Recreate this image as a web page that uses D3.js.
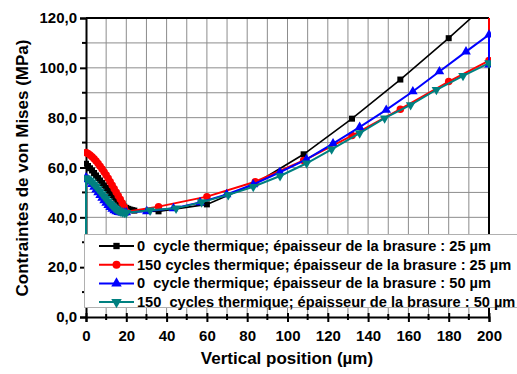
<!DOCTYPE html>
<html><head><meta charset="utf-8">
<script src="https://cdn.jsdelivr.net/npm/d3@7/dist/d3.min.js"></script>
<style>body{margin:0;background:#fff}svg{display:block}text{font-family:"Liberation Sans",Arial,sans-serif;font-weight:bold}</style>
</head><body><svg id="c" width="517" height="374"></svg>
<script>
// ---- data ----
const xTicks = [0,20,40,60,80,100,120,140,160,180,200];
const yTicks = [0,20,40,60,80,100,120];
const yTickLabels = ["0,0","20,0","40,0","60,0","80,0","100,0","120,0"];
const seriesNames = [
  "0  cycle thermique; épaisseur de la brasure : 25 µm",
  "150 cycles thermique; épaisseur de la brasure : 25 µm",
  "0  cycle thermique; épaisseur de la brasure : 50 µm",
  "150  cycles thermique; épaisseur de la brasure : 50 µm"
];
const blackX = [0,1,2,3,4,5,6,7,8,9,10,11,12,13,14,15,16,17,18,19,20,21,22,23,24,36,60,84,108,132,156,180,200];
const blackY = [61.5,60.6,59.7,58.8,57.8,56.8,55.8,54.8,53.8,52.8,51.8,50.8,49.8,48.9,48.0,47.1,46.3,45.6,44.9,44.3,43.8,43.4,43.1,42.9,42.7,42.4,45.2,53.6,65.3,79.6,95.3,111.9,126.5];
const redX = [0,1,2,3,4,5,6,7,8,9,10,11,12,13,14,15,16,17,18,19,20,36,60,84,108,132,156,180,200,200];
const redY = [66.0,65.6,65.0,64.3,63.5,62.6,61.6,60.5,59.4,58.2,57.0,55.7,54.3,52.9,51.5,50.1,48.7,47.3,45.8,44.0,42.2,44.3,48.3,54.3,62.8,72.8,83.4,94.5,102.9,125];
const blueX = [0,1,2,3,4,5,6,7,8,9,10,11,12,13,14,15,16,17,18,19,20,30.2,43.4,56.6,69.8,83,96.2,109.4,122.6,135.8,149,162.2,175.4,188.6,200,200];
const blueY = [56.0,55.2,54.3,53.3,52.2,51.1,50.0,48.9,47.8,46.8,45.8,44.9,44.1,43.4,42.8,42.4,42.1,41.9,41.8,41.8,41.9,42.4,43.6,46.0,49.2,53.2,58.1,63.3,69.6,76.2,83.1,90.5,98.5,106.5,113.3,101.2];
const tealX = [0,0,1,2,3,4,5,6,7,8,9,10,11,12,13,14,15,16,17,18,19,20,31.8,44.7,57.4,70.6,83,96.3,109.5,121.9,135.8,148.2,161.1,173.9,187.1,200];
const tealY = [20,55.8,55.4,54.8,54.1,53.3,52.4,51.4,50.4,49.4,48.4,47.4,46.4,45.5,44.7,43.9,43.3,42.8,42.4,42.1,41.9,41.8,42.8,43.6,46.1,49.0,52.3,56.6,61.7,67.3,73.8,79.8,85.1,91.2,96.8,101.9];

const colors = ["#000000","#ff0000","#0000ff","#008080"];

const svg = d3.select("#c");
const x = d3.scaleLinear().domain([0,200]).range([86,489]);
const y = d3.scaleLinear().domain([0,120]).range([317,18]);

// grid
const g = svg.append("g");
g.selectAll("line.v").data(d3.range(10,200,10)).join("line")
  .attr("x1",d=>x(d)).attr("x2",d=>x(d)).attr("y1",y(0)).attr("y2",y(120))
  .attr("stroke","#8c8c8c").attr("stroke-width",1);
g.selectAll("line.h").data(d3.range(10,120,10)).join("line")
  .attr("y1",d=>y(d)).attr("y2",d=>y(d)).attr("x1",x(0)).attr("x2",x(200))
  .attr("stroke","#8c8c8c").attr("stroke-width",1);

// frame top/right
svg.append("line").attr("x1",x(0)).attr("x2",x(200)).attr("y1",y(120)).attr("y2",y(120)).attr("stroke","#000").attr("stroke-width",2);
svg.append("line").attr("x1",x(200)).attr("x2",x(200)).attr("y1",y(120)).attr("y2",y(0)).attr("stroke","#000").attr("stroke-width",2);

// axes
const xAxis = d3.axisBottom(x).tickValues(xTicks).tickSize(5).tickPadding(8);
const xa = svg.append("g").attr("transform",`translate(0,${y(0)})`).call(xAxis);
xa.select(".domain").attr("stroke-width",2);
xa.selectAll(".tick line").attr("y1",-4).attr("stroke-width",2);
xa.selectAll(".tick text").attr("font-size",15).attr("font-family","Liberation Sans, Arial").attr("font-weight","bold").attr("fill","#000");
const xMinor = svg.append("g").attr("transform",`translate(0,${y(0)})`);
xMinor.selectAll("line").data(d3.range(10,200,20)).join("line")
  .attr("x1",d=>x(d)).attr("x2",d=>x(d)).attr("y1",-3).attr("y2",3).attr("stroke","#000").attr("stroke-width",2);

const yAxis = d3.axisLeft(y).tickValues(yTicks).tickFormat((d,i)=>yTickLabels[i]).tickSize(6).tickPadding(3);
const ya = svg.append("g").attr("transform",`translate(${x(0)},0)`).call(yAxis);
ya.select(".domain").attr("stroke-width",2);
ya.selectAll(".tick line").attr("stroke-width",2);
ya.selectAll(".tick text").attr("font-size",15).attr("font-family","Liberation Sans, Arial").attr("font-weight","bold").attr("fill","#000");
const yMinor = svg.append("g").attr("transform",`translate(${x(0)},0)`);
yMinor.selectAll("line").data(d3.range(10,120,20)).join("line")
  .attr("y1",d=>y(d)).attr("y2",d=>y(d)).attr("x1",-4).attr("x2",0).attr("stroke","#000").attr("stroke-width",2);

// titles
svg.append("text").attr("x",287).attr("y",364).attr("text-anchor","middle").attr("font-size",17).text("Vertical position (µm)");
svg.append("text").attr("transform","translate(28,168) rotate(-90)").attr("text-anchor","middle").attr("font-size",17).text("Contraintes de von Mises (MPa)");

// clip
svg.append("clipPath").attr("id","clip").append("rect").attr("x",x(0)-2).attr("y",y(120)).attr("width",x(200)-x(0)+4).attr("height",y(0)-y(120));

const series = [
  {xs:blackX, ys:blackY, sym:d3.symbolSquare, size:36, rot:0, w:1.6},
  {xs:redX, ys:redY, sym:d3.symbolCircle, size:44, rot:0, w:2},
  {xs:blueX, ys:blueY, sym:d3.symbolTriangle, size:40, rot:-120, w:2},
  {xs:tealX, ys:tealY, sym:d3.symbolTriangle, size:40, rot:180, w:2}
];
const plot = svg.append("g").attr("clip-path","url(#clip)");
const line = d3.line().x(d=>x(d[0])).y(d=>y(d[1]));
series.forEach((s,i)=>{
  const pts = s.xs.map((v,j)=>[v,s.ys[j]]);
  plot.append("path").datum(pts).attr("d",line).attr("fill","none").attr("stroke",colors[i]).attr("stroke-width",s.w);
  plot.selectAll(null).data(pts.filter(p=>p[1]<=120 && !(p[0]===0 && i===3 && p[1]<30))).join("path")
    .attr("d",d3.symbol().type(s.sym).size(s.size)())
    .attr("transform",d=>`translate(${x(d[0])},${y(d[1])}) rotate(${s.rot})`)
    .attr("fill",colors[i]);
});

// legend
const lg = svg.append("g");
lg.append("rect").attr("x",84.5).attr("y",234.5).attr("width",440).attr("height",73).attr("fill","#fff").attr("stroke","#b0b0b0").attr("stroke-width",1);
const legSyms = [[d3.symbolSquare,40,0],[d3.symbolCircle,50,0],[d3.symbolTriangle,48,0],[d3.symbolTriangle,48,180]];
seriesNames.forEach((name,i)=>{
  const yy = 246 + i*18.7;
  lg.append("line").attr("x1",99).attr("x2",134).attr("y1",yy).attr("y2",yy).attr("stroke",colors[i]).attr("stroke-width",2);
  lg.append("path").attr("d",d3.symbol().type(legSyms[i][0]).size(legSyms[i][1])()).attr("transform",`translate(116.5,${yy}) rotate(${legSyms[i][2]})`).attr("fill",colors[i]);
  lg.append("text").attr("x",137).attr("y",yy+5).attr("font-size",14.6).attr("xml:space","preserve").style("white-space","pre").text(name);
});
</script></body></html>
